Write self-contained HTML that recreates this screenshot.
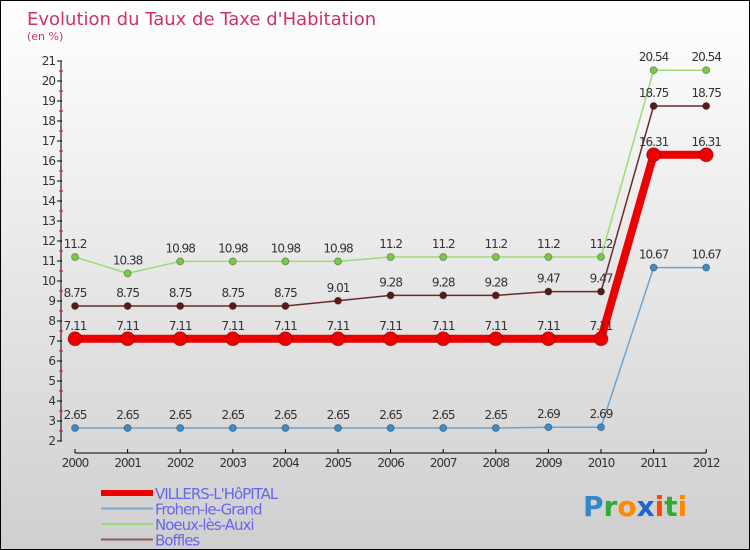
<!DOCTYPE html>
<html><head><meta charset="utf-8"><style>
body{margin:0}
#c{width:748px;height:548px;border:1px solid #000;position:relative;background:linear-gradient(#fff,#cfcfcf);font-family:"DejaVu Sans","Liberation Sans",sans-serif;overflow:hidden}
</style></head><body>
<div id="c">
<svg id="s" width="748" height="548"></svg>
</div>
<script>
const years=[2000,2001,2002,2003,2004,2005,2006,2007,2008,2009,2010,2011,2012];
const villers=[7.11,7.11,7.11,7.11,7.11,7.11,7.11,7.11,7.11,7.11,7.11,16.31,16.31];
const frohen=[2.65,2.65,2.65,2.65,2.65,2.65,2.65,2.65,2.65,2.69,2.69,10.67,10.67];
const noeux=[11.2,10.38,10.98,10.98,10.98,10.98,11.2,11.2,11.2,11.2,11.2,20.54,20.54];
const boffles=[8.75,8.75,8.75,8.75,8.75,9.01,9.28,9.28,9.28,9.47,9.47,18.75,18.75];
const yTicks=[2,3,4,5,6,7,8,9,10,11,12,13,14,15,16,17,18,19,20,21];
const ns="http://www.w3.org/2000/svg",s=document.getElementById('s');
const X=i=>74+i*52.6, Y=v=>60+(21-v)*20;
function el(t,a,p){const e=document.createElementNS(ns,t);for(const k in a)e.setAttribute(k,a[k]);(p||s).appendChild(e);return e;}
function tx(x,y,str,o){const e=el('text',Object.assign({x:x,y:y,'font-size':12,fill:'#333'},o||{}));e.textContent=str;return e;}
let t=tx(26,24,"Evolution du Taux de Taxe d'Habitation",{'font-size':18,fill:'#d0306a'});

t=tx(26,39,"(en %)",{'font-size':11,fill:'#d0306a'});

let a=el('line',{x1:60,y1:Y(21),x2:60,y2:Y(2),stroke:'#000'});

yTicks.forEach(v=>{el('line',{x1:56,y1:Y(v),x2:61,y2:Y(v),stroke:'#000'});
 if(v<21)el('line',{x1:58,y1:Y(v+0.5),x2:62,y2:Y(v+0.5),stroke:'#e00'});
 const l=tx(54,Y(v)+4,String(v),{'text-anchor':'end','font-size':12,'letter-spacing':'-1'});
 });
a=el('line',{x1:X(0),y1:452,x2:X(12),y2:452,stroke:'#000'});

years.forEach((y,i)=>{el('line',{x1:X(i),y1:448,x2:X(i),y2:452,stroke:'#000'});
 const l=tx(X(i),466,String(y),{'text-anchor':'middle','font-size':12,'letter-spacing':'-1'});
 });
function series(d,c,w,r,name,dot){
 const p=el('polyline',{points:d.map((v,i)=>X(i)+','+Y(v)).join(' '),fill:'none',stroke:c,'stroke-width':w});
 
 d.forEach((v,i)=>{const m=el('circle',{cx:X(i),cy:Y(v),r:r,fill:dot,stroke:'rgba(0,0,0,0.3)'});
  
  const l=tx(X(i),Y(v)-9,String(v),{'text-anchor':'middle','font-size':12,'letter-spacing':'-1'});
  });
}
series(frohen,'#6fa3cc',1.5,3.5,'frohen','#3a8ccc');
series(noeux,'#99dd77',1.5,3.5,'noeux','#77cc44');
series(boffles,'#6b2a2a',1.5,3.5,'boffles','#5a1a1a');
series(villers,'#ee0000',8,7,'villers','#ee0000');
const leg=[['VILLERS-L\'HôPITAL','#ee0000',6],['Frohen-le-Grand','#7aa8cc',2],['Noeux-lès-Auxi','#99dd77',2],['Boffles','#8b5a5a',2]];
leg.forEach((g,i)=>{const y=492+i*15.5;
 const l=el('line',{x1:100,y1:y,x2:152,y2:y,stroke:g[1],'stroke-width':g[2]});
 
 const tt=tx(154,y+6,g[0],{'font-size':15,fill:'#6666ee','letter-spacing':'-1'});
 });
const lg=el('text',{x:582,y:515,'font-size':28,'font-weight':'bold'});

[['P','#3388cc'],['r','#33aa33'],['o','#ff8800'],['x','#2266cc'],['i','#ff4400'],['t','#33aa33'],['i','#ff8800']].forEach(c=>{const sp=el('tspan',{fill:c[1]},lg);sp.textContent=c[0];});
</script>
</body></html>
